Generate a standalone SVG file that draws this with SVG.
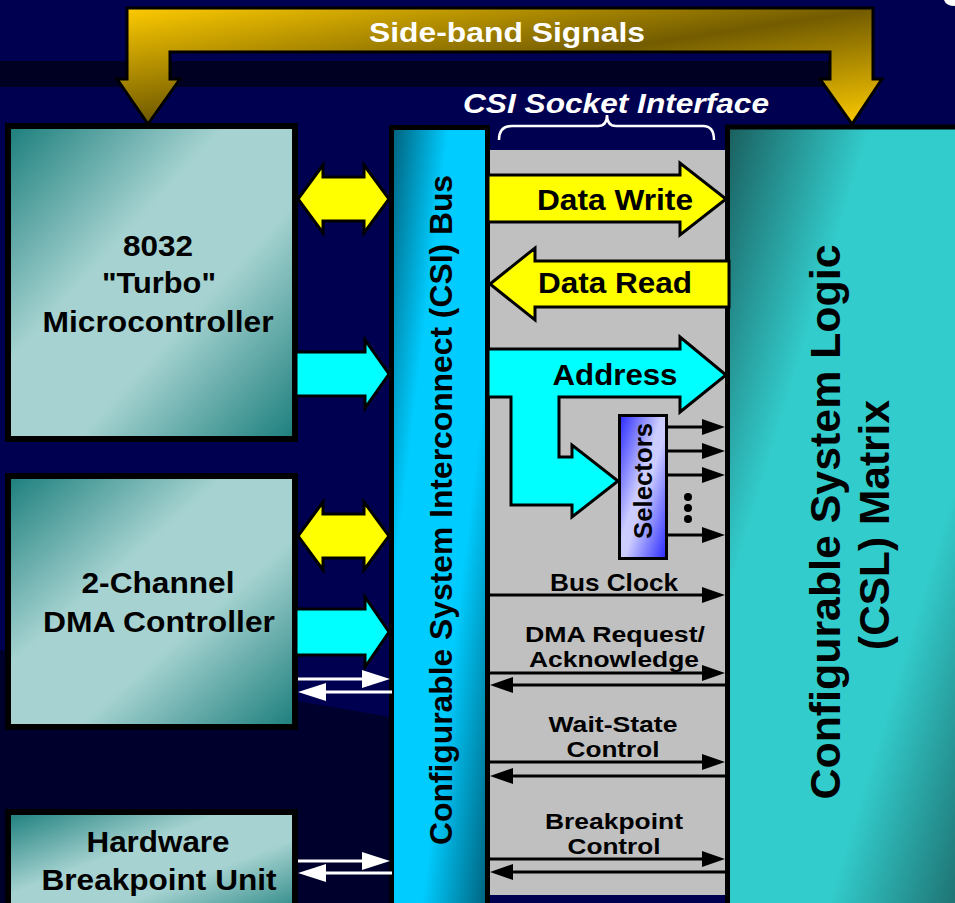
<svg xmlns="http://www.w3.org/2000/svg" width="955" height="903" viewBox="0 0 955 903">
<defs>
<linearGradient id="gSide" x1="0" y1="0" x2="1" y2="1">
<stop offset="0" stop-color="#FFCC00"/><stop offset="0.5" stop-color="#735C00"/><stop offset="1" stop-color="#FFCC00"/>
</linearGradient>
<linearGradient id="gBox" x1="0" y1="0" x2="1" y2="1">
<stop offset="0" stop-color="#1B7E7C"/><stop offset="0.38" stop-color="#A6D3D1"/><stop offset="0.62" stop-color="#A6D3D1"/><stop offset="1" stop-color="#1B7E7C"/>
</linearGradient>
<linearGradient id="gBus" x1="0" y1="0" x2="1" y2="1">
<stop offset="0" stop-color="#005F7A"/><stop offset="0.3" stop-color="#00CCFF"/><stop offset="0.65" stop-color="#00CCFF"/><stop offset="1" stop-color="#005F7A"/>
</linearGradient>
<linearGradient id="gMat" x1="0" y1="0" x2="1" y2="1">
<stop offset="0" stop-color="#1A5E5E"/><stop offset="0.3" stop-color="#33CCCC"/><stop offset="0.7" stop-color="#33CCCC"/><stop offset="1" stop-color="#1C6868"/>
</linearGradient>
<linearGradient id="gSel" x1="0" y1="0" x2="1" y2="1">
<stop offset="0" stop-color="#2828FF"/><stop offset="0.45" stop-color="#CCCCFF"/><stop offset="0.55" stop-color="#CCCCFF"/><stop offset="1" stop-color="#2828FF"/>
</linearGradient>
<marker id="mBlk" viewBox="0 0 23 16" refX="15" refY="8" markerWidth="23" markerHeight="16" markerUnits="userSpaceOnUse" orient="auto">
<path d="M0,0 L23,8 L0,16 Z" fill="#000"/>
</marker>
<marker id="mWht" viewBox="0 0 28 18" refX="20" refY="9" markerWidth="28" markerHeight="18" markerUnits="userSpaceOnUse" orient="auto">
<path d="M0,0 L28,9 L0,18 Z" fill="#fff"/>
</marker>
<style>
.t{font-family:"Liberation Sans",Arial,Helvetica,sans-serif;font-weight:bold;text-anchor:middle}
.bk{fill:#000}
.wt{fill:#fff}
.box{fill:url(#gBox);stroke:#000;stroke-width:6}
.fat{stroke:#000;stroke-width:3;stroke-linejoin:miter}
.yel{fill:#FFFF00}
.cyn{fill:#00FFFF}
.ln{stroke:#000;stroke-width:3;fill:none;marker-end:url(#mBlk)}
.wln{stroke:#fff;stroke-width:3;fill:none;marker-end:url(#mWht)}
</style>
</defs>

<g id="background">
<rect x="0" y="0" width="955" height="903" fill="#000050"/>
<rect x="0" y="61" width="830" height="26" fill="#000022"/>
<polygon points="0,650 390,717 390,903 0,903" fill="#00002C"/>
<path d="M944,0 Q946,6 955,6 L955,0 Z" fill="#fff"/>
</g>

<g id="socket-panel">
<rect x="488" y="150" width="240" height="745" fill="#C0C0C0"/>
<path d="M499,140 Q499,126 512,126 L598,126 Q607,126 607,115 Q607,126 616,126 L703,126 Q714,126 714,140" fill="none" stroke="#fff" stroke-width="2.5"/>
<text class="t wt" x="616" y="113" font-size="27" font-style="italic" textLength="306" lengthAdjust="spacingAndGlyphs">CSI Socket Interface</text>
</g>

<g id="microcontroller">
<rect class="box" x="8" y="126" width="287" height="313"/>
<text class="t bk" font-size="29" x="158" y="256" textLength="70" lengthAdjust="spacingAndGlyphs">8032</text>
<text class="t bk" font-size="29" x="159" y="293" textLength="114" lengthAdjust="spacingAndGlyphs">"Turbo"</text>
<text class="t bk" font-size="29" x="158" y="332" textLength="231" lengthAdjust="spacingAndGlyphs">Microcontroller</text>
</g>

<g id="dma-controller">
<rect class="box" x="8" y="476" width="287" height="251"/>
<text class="t bk" font-size="29" x="158" y="593" textLength="153" lengthAdjust="spacingAndGlyphs">2-Channel</text>
<text class="t bk" font-size="29" x="159" y="632" textLength="232" lengthAdjust="spacingAndGlyphs">DMA Controller</text>
</g>

<g id="breakpoint-unit">
<rect class="box" x="8" y="812" width="287" height="110"/>
<text class="t bk" font-size="29" x="158" y="852" textLength="143" lengthAdjust="spacingAndGlyphs">Hardware</text>
<text class="t bk" font-size="29" x="159" y="890" textLength="235" lengthAdjust="spacingAndGlyphs">Breakpoint Unit</text>
</g>

<g id="csi-bus">
<rect x="391.5" y="127.5" width="96" height="790" fill="url(#gBus)" stroke="#000" stroke-width="5"/>
<text class="t bk" font-size="31" transform="translate(452,510) rotate(-90)" textLength="670" lengthAdjust="spacingAndGlyphs">Configurable System Interconnect (CSI) Bus</text>
</g>

<g id="csl-matrix">
<rect x="727.5" y="127" width="240" height="790" fill="url(#gMat)" stroke="#000" stroke-width="5"/>
<text class="t bk" font-size="42" transform="translate(840,522) rotate(-90)" textLength="555" lengthAdjust="spacingAndGlyphs">Configurable System Logic</text>
<text class="t bk" font-size="42" transform="translate(889,525) rotate(-90)" textLength="250" lengthAdjust="spacingAndGlyphs">(CSL) Matrix</text>
</g>

<g id="connectors">
<polygon class="fat" fill="url(#gSide)" points="127,8 873,8 873,79 882,79 852,124 820,79 830,79 830,52 170,52 170,79 180,79 148,124 117,79 127,79"/>
<text class="t wt" x="507" y="42" font-size="28" textLength="276" lengthAdjust="spacingAndGlyphs">Side-band Signals</text>

<polygon class="fat yel" points="298,199 323,165 323,177 364,177 364,165 389,199 364,233 364,221 323,221 323,233"/>
<polygon class="fat cyn" points="296,352 365,352 365,340 389,374 365,408 365,396 296,396"/>
<polygon class="fat yel" points="298,536 323,502 323,514 364,514 364,502 389,536 364,570 364,558 323,558 323,570"/>
<polygon class="fat cyn" points="296,609 365,609 365,597 389,632 365,667 365,655 296,655"/>
<line class="wln" x1="298" y1="679" x2="382" y2="679"/>
<line class="wln" x1="392" y1="692" x2="306" y2="692"/>
<line class="wln" x1="298" y1="861" x2="382" y2="861"/>
<line class="wln" x1="392" y1="873" x2="306" y2="873"/>

<polygon class="fat yel" points="488,175 680,175 680,163 726,199 680,235 680,222 488,222"/>
<text class="t bk" x="615" y="210" font-size="30" textLength="156" lengthAdjust="spacingAndGlyphs">Data Write</text>
<polygon class="fat yel" points="729,261 535,261 535,248 490,284 535,320 535,307 729,307"/>
<text class="t bk" x="615" y="293" font-size="30" textLength="154" lengthAdjust="spacingAndGlyphs">Data Read</text>
<polygon class="fat cyn" points="488,349 680,349 680,337 726,375 680,412 680,397 559,397 559,457 572,457 572,445 618,481 572,517 572,505 511,505 511,397 488,397"/>
<text class="t bk" x="615" y="385" font-size="30" textLength="125" lengthAdjust="spacingAndGlyphs">Address</text>

<line class="ln" x1="668" y1="427" x2="717" y2="427"/>
<line class="ln" x1="668" y1="451" x2="717" y2="451"/>
<line class="ln" x1="668" y1="475" x2="717" y2="475"/>
<line class="ln" x1="668" y1="535" x2="717" y2="535"/>
<circle cx="688" cy="497" r="4" fill="#000"/>
<circle cx="688" cy="508" r="4" fill="#000"/>
<circle cx="688" cy="519" r="4" fill="#000"/>

<line class="ln" x1="490" y1="595" x2="717" y2="595"/>
<text class="t bk" x="614" y="591" font-size="24" textLength="128" lengthAdjust="spacingAndGlyphs">Bus Clock</text>

<line class="ln" x1="490" y1="673" x2="717" y2="673"/>
<line class="ln" x1="725" y1="685" x2="498" y2="685"/>
<text class="t bk" font-size="22"><tspan x="615" y="642" textLength="180" lengthAdjust="spacingAndGlyphs">DMA Request/</tspan><tspan x="614" y="667" textLength="170" lengthAdjust="spacingAndGlyphs">Acknowledge</tspan></text>

<line class="ln" x1="490" y1="762" x2="717" y2="762"/>
<line class="ln" x1="725" y1="776" x2="498" y2="776"/>
<text class="t bk" font-size="22"><tspan x="613" y="732" textLength="129" lengthAdjust="spacingAndGlyphs">Wait-State</tspan><tspan x="613" y="757" textLength="93" lengthAdjust="spacingAndGlyphs">Control</tspan></text>

<line class="ln" x1="490" y1="859" x2="717" y2="859"/>
<line class="ln" x1="725" y1="872" x2="498" y2="872"/>
<text class="t bk" font-size="22"><tspan x="614" y="829" textLength="138" lengthAdjust="spacingAndGlyphs">Breakpoint</tspan><tspan x="614" y="854" textLength="93" lengthAdjust="spacingAndGlyphs">Control</tspan></text>
</g>

<g id="selectors">
<rect x="619.5" y="415.5" width="47" height="143" fill="url(#gSel)" stroke="#000" stroke-width="3"/>
<text class="t bk" font-size="25" transform="translate(652,481) rotate(-90)" textLength="116" lengthAdjust="spacingAndGlyphs">Selectors</text>
</g>
</svg>
